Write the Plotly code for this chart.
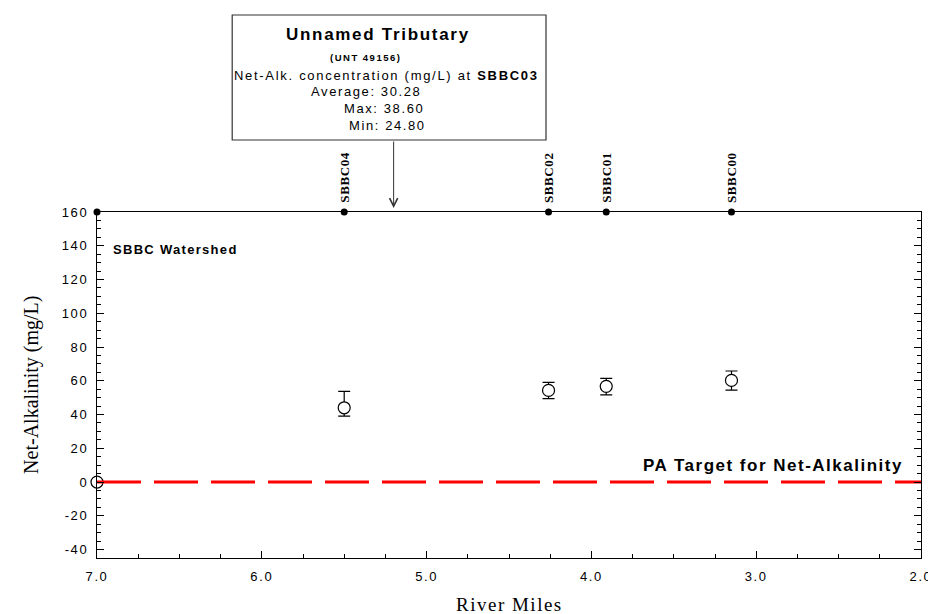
import plotly.graph_objects as go

# ---- data ----
stations = ["SBBC04", "SBBC02", "SBBC01", "SBBC00"]
station_miles = [5.50, 4.26, 3.91, 3.15]
net_alk_avg = [44.0, 54.3, 56.7, 60.2]
net_alk_max = [53.7, 59.1, 61.4, 65.8]
net_alk_min = [39.1, 49.4, 51.7, 54.5]

mouth_mile = [7.0]
mouth_value = [0.0]

target_miles = [7.0, 2.0]
target_value = [0.0, 0.0]

trib_mile = 5.20
trib_name = "Unnamed Tributary"
trib_id = "(UNT 49156)"
trib_station = "SBBC03"
trib_avg = 30.28
trib_max = 38.60
trib_min = 24.80

x_tick_vals = [7.0, 6.0, 5.0, 4.0, 3.0, 2.0]
x_tick_labels = ["7.0", "6.0", "5.0", "4.0", "3.0", "2.0"]
y_tick_vals = [-40, -20, 0, 20, 40, 60, 80, 100, 120, 140, 160]
y_tick_labels = ["-40", "-20", "0", "20", "40", "60", "80", "100", "120", "140", "160"]

x_range = [7.0, 2.0]
y_range = [-45, 160]
y_top = 160

W, H = 936, 614
ML, MR, MT, MB = 89, 12, 204, 64
PW, PH = W - ML - MR, H - MT - MB


def px(xp):
    return (xp - ML) / PW


def py(yp):
    return (H - MB - yp) / PH


def ls(text, sp):
    return "<span style='letter-spacing:%.1fpx'>%s</span>" % (sp, text)


SANS = "Liberation Sans, Arial, sans-serif"
SERIF = "Liberation Serif, Times New Roman, serif"

fig = go.Figure()

# mouth point
fig.add_trace(go.Scatter(
    x=mouth_mile, y=mouth_value, mode="markers",
    marker=dict(symbol="circle", size=12, color="white",
                line=dict(color="black", width=1.2)),
    cliponaxis=False, showlegend=False, hoverinfo="skip"))

# target line
fig.add_trace(go.Scatter(
    x=target_miles, y=target_value, mode="lines",
    line=dict(color="#ff0000", width=3, dash="44px,13px"),
    showlegend=False, hoverinfo="skip"))

# station data with error bars
err_plus = [mx - a for mx, a in zip(net_alk_max, net_alk_avg)]
err_minus = [a - mn for mn, a in zip(net_alk_min, net_alk_avg)]
fig.add_trace(go.Scatter(
    x=station_miles, y=net_alk_avg, mode="markers",
    marker=dict(symbol="circle", size=12, color="white",
                line=dict(color="black", width=1.2)),
    error_y=dict(type="data", symmetric=False, array=err_plus,
                 arrayminus=err_minus, color="black", thickness=1.2, width=6),
    showlegend=False, name="Net-Alkalinity"))

# station markers on top axis
fig.add_trace(go.Scatter(
    x=[x_range[0]] + station_miles, y=[y_top] * (len(station_miles) + 1),
    mode="markers", marker=dict(size=7, color="black"),
    cliponaxis=False, showlegend=False, hoverinfo="skip"))

annotations = []
for name, m in zip(stations, station_miles):
    annotations.append(dict(
        x=m, y=y_top, xref="x", yref="y", text="<b>%s</b>" % ls(name, 0.6),
        showarrow=False, textangle=-90, yanchor="bottom", xanchor="center",
        yshift=7, font=dict(family=SERIF, size=13, color="black")))

# tributary arrow
annotations.append(dict(
    x=trib_mile, y=y_top, xref="x", yref="y", text="", showarrow=True,
    ax=0, ay=-72, arrowhead=5, arrowsize=1.6, arrowwidth=1, arrowcolor="#333333",
    standoff=4))

# box texts
box_lines = [
    ("<b>%s</b>" % ls(trib_name, 1.7), 374, 26, 17),
    ("<b>%s</b>" % ls(trib_id, 1.5), 361, 49, 9.5),
    (ls("Net-Alk. concentration (mg/L) at <b>%s</b>" % trib_station, 1.7), 382, 67, 13),
    (ls("Average: %.2f" % trib_avg, 1.6), 362, 83.5, 13),
    (ls("Max: %.2f" % trib_max, 1.6), 380, 100.5, 13),
    (ls("Min: %.2f" % trib_min, 1.6), 383, 118, 13),
]
for t, xc, yc, fs in box_lines:
    annotations.append(dict(
        x=px(xc), y=py(yc), xref="paper", yref="paper", text=t, showarrow=False,
        xanchor="center", yanchor="middle", font=dict(family=SANS, size=fs, color="black")))

annotations.append(dict(
    x=px(103), y=py(241), xref="paper", yref="paper",
    text="<b>%s</b>" % ls("SBBC Watershed", 1.3),
    showarrow=False, xanchor="left", yanchor="middle",
    font=dict(family=SANS, size=13, color="black")))
annotations.append(dict(
    x=px(908), y=py(457), xref="paper", yref="paper",
    text="<b>%s</b>" % ls("PA Target for Net-Alkalinity", 1.5),
    showarrow=False, xanchor="right", yanchor="middle",
    font=dict(family=SANS, size=17, color="black")))

# axis titles
annotations.append(dict(
    x=px(22), y=0.5, xref="paper", yref="paper", text="Net-Alkalinity (mg/L)",
    showarrow=False, textangle=-90, xanchor="center", yanchor="middle",
    font=dict(family=SERIF, size=20, color="black")))
annotations.append(dict(
    x=0.5, y=py(596), xref="paper", yref="paper", text=ls("River Miles", 1.5),
    showarrow=False, xanchor="center", yanchor="middle",
    font=dict(family=SERIF, size=19, color="black")))

shapes = [dict(type="rect", xref="paper", yref="paper",
               x0=px(226), x1=px(544), y0=py(132), y1=py(7),
               line=dict(color="#333333", width=1.2), fillcolor="white", layer="above")]

fig.update_layout(
    width=W, height=H,
    margin=dict(l=ML, r=MR, t=MT, b=MB, pad=0),
    paper_bgcolor="white", plot_bgcolor="white",
    annotations=annotations, shapes=shapes,
    xaxis=dict(
        range=x_range, tickmode="array", tickvals=x_tick_vals,
        ticktext=[ls(t, 1.6) for t in x_tick_labels],
        ticks="inside", ticklen=7, tickwidth=1, tickcolor="black",
        minor=dict(tickmode="linear", dtick=0.25, tick0=2, ticks="inside",
                   ticklen=4, tickcolor="black", tickwidth=1),
        showline=True, linecolor="black", linewidth=1.3, mirror=True,
        showgrid=False, zeroline=False,
        tickfont=dict(family=SANS, size=13, color="black"),
        ticklabelstandoff=6,
    ),
    yaxis=dict(
        range=y_range, tickmode="array", tickvals=y_tick_vals,
        ticktext=[ls(t, 1.6) for t in y_tick_labels],
        ticks="inside", ticklen=7, tickwidth=1, tickcolor="black",
        minor=dict(tickmode="linear", dtick=5, tick0=0, ticks="inside",
                   ticklen=4, tickcolor="black", tickwidth=1),
        showline=True, linecolor="black", linewidth=1.3, mirror="ticks",
        showgrid=False, zeroline=False,
        tickfont=dict(family=SANS, size=13, color="black"),
        ticklabelstandoff=5,
    ),
)

fig.write_html("out.html")
